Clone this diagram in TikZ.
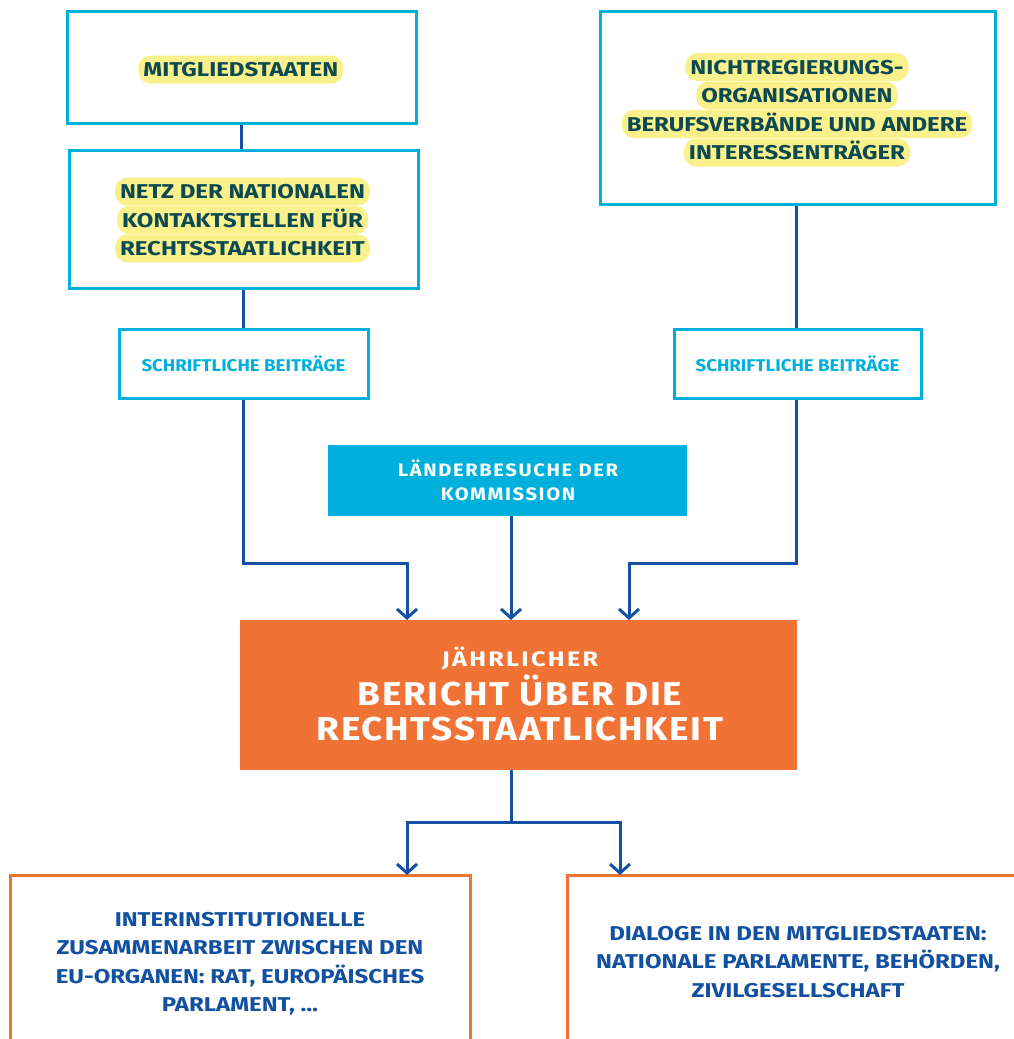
\documentclass[tikz,border=0pt]{standalone}
\usepackage{fontspec}
\setmainfont{Fira Sans}
\newfontfamily\wbA{Fira Sans}[FakeStretch=1.2]
\newfontfamily\wbB{Fira Sans}[FakeStretch=1.1]
\newfontfamily\wbC{Fira Sans}[FakeStretch=1.12,LetterSpace=9]
\newfontfamily\wbD{Fira Sans}[FakeStretch=1.2,LetterSpace=11]
\newfontfamily\wbE{Fira Sans}[FakeStretch=1.12,LetterSpace=5]
\usetikzlibrary{arrows.meta}
\definecolor{cy}{HTML}{00B0DC}
\definecolor{ln}{HTML}{1450A3}
\definecolor{org}{HTML}{F07234}
\definecolor{tl}{HTML}{0B4A52}
\definecolor{hy}{HTML}{FAF08C}
\definecolor{bt}{HTML}{1250A0}
\begin{document}
\begin{tikzpicture}[x=1pt,y=-1pt,
  cbox/.style={draw=cy,line width=3pt,inner sep=0pt},
  obox/.style={draw=org,line width=3pt,inner sep=0pt},
  hl/.style={fill=hy,rounded corners=12pt,text=tl,font=\wbA\bfseries\fontsize{20}{20}\selectfont,
    inner xsep=5pt,inner ysep=0pt,text height=14pt,text depth=0pt,minimum height=28pt},
  stxt/.style={text=cy,font=\wbB\bfseries\fontsize{17}{17}\selectfont,anchor=base},
  btxt/.style={text=bt,font=\wbA\bfseries\fontsize{20}{28.5}\selectfont,align=center,anchor=base},
  conn/.style={draw=ln,line width=3pt},
  arr/.style={conn,-{Straight Barb[length=9pt,width=20pt]}}]
\useasboundingbox (0,0) rectangle (1014,1039);
\clip (0,0) rectangle (1014,1039);
% boxes
\node[cbox,minimum width=349pt,minimum height=112pt] (A) at (241.5,67) {};
\node[cbox,minimum width=349pt,minimum height=138pt] (B) at (243.5,219) {};
\node[cbox,minimum width=249pt,minimum height=69pt] (S1) at (243.5,363.5) {};
\node[cbox,minimum width=395pt,minimum height=193pt] (N) at (797.5,107.5) {};
\node[cbox,minimum width=247pt,minimum height=69pt] (S2) at (797.5,363.5) {};
\node[fill=cy,minimum width=359pt,minimum height=71pt,inner sep=0pt] (L) at (507.5,480.5) {};
\node[fill=org,minimum width=557pt,minimum height=150pt,inner sep=0pt] (R) at (518.5,695) {};
\node[obox,minimum width=460pt,minimum height=204pt] (BL) at (240,977) {};
\node[obox,minimum width=503pt,minimum height=204pt] (BR) at (818.5,977) {};
% highlighted texts
\node[hl] (a1) at (240.8,69.5) {MITGLIEDSTAATEN};
\node[hl] (b1) at (242.5,191.7) {NETZ DER NATIONALEN};
\node[hl] (b2) at (242.5,220) {KONTAKTSTELLEN FÜR};
\node[hl] (b3) at (242.5,248.3) {RECHTSSTAATLICHKEIT};
\node[hl] (n1) at (797,67) {NICHTREGIERUNGS-};
\node[hl] (n2) at (797,95.5) {ORGANISATIONEN};
\node[hl] (n3) at (797,124) {BERUFSVERBÄNDE UND ANDERE};
\node[hl] (n4) at (797,152.5) {INTERESSENTRÄGER};
% small texts (anchor base = baseline of the last line)
\node[stxt] (s1t) at (243.5,371.5) {SCHRIFTLICHE BEITRÄGE};
\node[stxt] (s2t) at (797.5,371.5) {SCHRIFTLICHE BEITRÄGE};
\node[text=white,font=\wbC\bfseries\fontsize{18}{24}\selectfont,align=center,anchor=base] (lt) at (508,500) {LÄNDERBESUCHE DER\\KOMMISSION};
\node[text=white,font=\wbD\bfseries\fontsize{21}{21}\selectfont,anchor=base] (r1t) at (520,666.7) {JÄHRLICHER};
\node[text=white,font=\wbE\bfseries\fontsize{33}{35}\selectfont,align=center,anchor=base] (r2t) at (520,740) {BERICHT ÜBER DIE\\RECHTSSTAATLICHKEIT};
\node[btxt] (blt) at (240,1011.5) {INTERINSTITUTIONELLE\\ZUSAMMENARBEIT ZWISCHEN DEN\\EU-ORGANEN: RAT, EUROPÄISCHES\\PARLAMENT, …};
\node[btxt] (brt) at (798,997) {DIALOGE IN DEN MITGLIEDSTAATEN:\\NATIONALE PARLAMENTE, BEHÖRDEN,\\ZIVILGESELLSCHAFT};
% connectors
\coordinate (r1) at (407,620);
\coordinate (r2) at (511,620);
\coordinate (r3) at (629,620);
\coordinate (j) at (511,822);
\coordinate (t1) at (407,875);
\coordinate (t2) at (620,875);
\draw[conn] (A.south) -- (A.south |- B.north);
\draw[conn] (B.south) -- (S1.north);
\draw[conn] (N.south -| 796,0) -- (S2.north -| 796,0);
\draw[arr] (S1.south) -- ++(0,164) -| (r1);
\draw[arr] (r2 |- L.south) -- (r2);
\draw[arr] (S2.south -| 796,0) -- ++(0,164) -| (r3);
\draw[conn] (j |- R.south) -- (j);
\draw[arr] (j) -| (t1);
\draw[arr] (j) -| (t2);
\end{tikzpicture}
\end{document}
